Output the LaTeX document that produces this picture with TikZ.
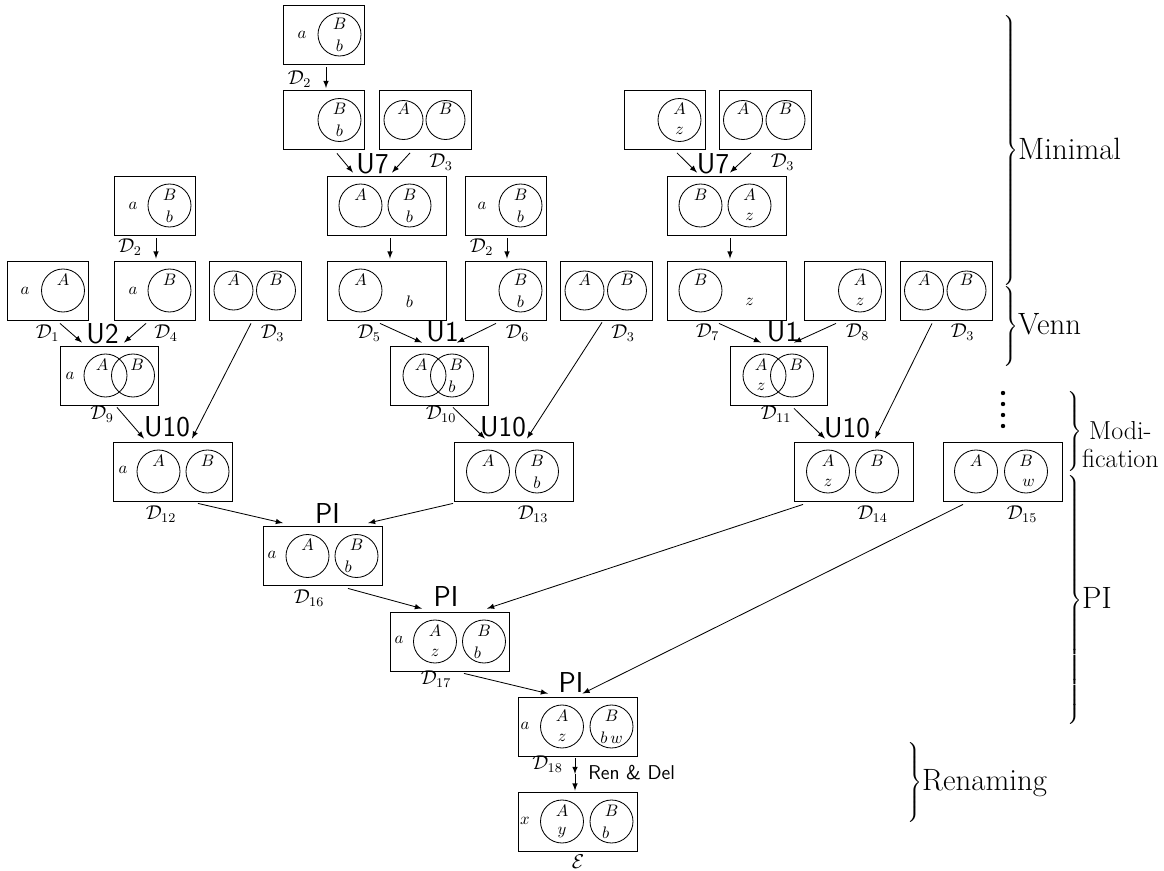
\documentclass[tikz,border=0pt]{standalone}
\usepackage{amsmath}
\usepackage{fontspec}
\usetikzlibrary{calc}
\newcommand{\setcirc}[5][setc]{\node[#1, label={[lab, yshift=6.6pt]center:${#4}$}, label={[lab, yshift=-6.6pt]center:${#5}$}] (#2) at (#3) {};}
\newcommand{\elem}[3]{\node[lab] (#1) at (#2) {$#3$};}
\newcommand{\phasetext}[1]{\raisebox{-2.4pt}{\fontsize{18.5}{22}\selectfont #1}}

\begin{document}
\begin{tikzpicture}[
    x=0.6pt, y=-0.6pt,
    box/.style  = {draw, line width=0.5pt, minimum height=35.4pt, inner sep=0pt},
    sbox/.style = {box, minimum width=48.6pt},
    dbox/.style = {box, minimum width=55.2pt},
    vbox/.style = {box, minimum width=58.5pt},
    wbox/.style = {box, minimum width=71.4pt},
    setc/.style = {circle, draw, line width=0.5pt, minimum size=25.8pt, inner sep=0pt},
    setd/.style = {setc, minimum size=23.4pt},
    lab/.style  = {inner sep=0pt},
    dlab/.style = {inner sep=0pt, font=\large},
    oplabel/.style = {inner sep=0pt, font=\LARGE\sffamily},
    arr/.style  = {->, >=latex, line width=0.5pt},
    brace/.style = {anchor=west, inner sep=0pt}
]
\useasboundingbox (0,0) rectangle (1164,871);

% minimal diagrams
\node[sbox] (b1) at (324,34.5) {};
\elem{b1a}{302,34.5}{a}
\setcirc{b1B}{339.5,34.5}{B}{b}

\node[sbox] (b2) at (324,120) {};
\setcirc{b2B}{339.5,120}{B}{b}
\node[dbox] (b3) at (425.5,120) {};
\setcirc[setd]{b3A}{403.5,120}{A}{}
\setcirc[setd]{b3B}{445.5,120}{B}{}
\node[sbox] (r1) at (664.5,120) {};
\setcirc{r1A}{679.5,120}{A}{z}
\node[dbox] (r2) at (765,120) {};
\setcirc[setd]{r2A}{743,120}{A}{}
\setcirc[setd]{r2B}{785.5,120}{B}{}

\node[sbox] (l1) at (154.5,205.5) {};
\elem{l1a}{133,205.5}{a}
\setcirc{l1B}{169.5,205.5}{B}{b}
\node[wbox] (b4) at (386.5,205.5) {};
\setcirc{b4A}{360.5,205.5}{A}{}
\setcirc{b4B}{409.5,205.5}{B}{b}
\node[sbox] (b5) at (505.5,205.5) {};
\elem{b5a}{482,205.5}{a}
\setcirc{b5B}{520.5,205.5}{B}{b}
\node[wbox] (r3) at (726.5,205.5) {};
\setcirc{r3B}{700.5,205.5}{B}{}
\setcirc{r3A}{749.5,205.5}{A}{z}

\node[sbox] (l2) at (47.5,290.5) {};
\elem{l2a}{25,290.5}{a}
\setcirc{l2A}{63,290.5}{A}{}
\node[sbox] (l3) at (154.5,290.5) {};
\elem{l3a}{133,290.5}{a}
\setcirc{l3B}{169.5,290.5}{B}{}
\node[dbox] (l4) at (255.5,290.5) {};
\setcirc[setd]{l4A}{233.5,290.5}{A}{}
\setcirc[setd]{l4B}{276,290.5}{B}{}
\node[wbox] (b6) at (386.5,290.5) {};
\setcirc{b6A}{360.5,290.5}{A}{}
\elem{b6b}{409.5,301.5}{b}
\node[sbox] (b7) at (505.5,290.5) {};
\setcirc{b7B}{520.5,290.5}{B}{b}
\node[dbox] (b8) at (606.5,290.5) {};
\setcirc[setd]{b8A}{584.5,290.5}{A}{}
\setcirc[setd]{b8B}{627,290.5}{B}{}
\node[wbox] (r4) at (726.5,290.5) {};
\setcirc{r4B}{700.5,290.5}{B}{}
\elem{r4z}{749.5,301.5}{z}
\node[sbox] (r5) at (845,290.5) {};
\setcirc{r5A}{860,290.5}{A}{z}
\node[dbox] (r6) at (946,290.5) {};
\setcirc[setd]{r6A}{924,290.5}{A}{}
\setcirc[setd]{r6B}{966.5,290.5}{B}{}

% venn diagrams
\node[vbox] (l5) at (109.5,375.5) {};
\elem{l5a}{70,375.5}{a}
\setcirc{l5A}{105.5,375.5}{A\kern4pt}{}
\setcirc{l5B}{133,375.5}{\kern5pt B}{}
\node[vbox] (b10) at (439.5,375.5) {};
\setcirc{b10A}{424.5,375.5}{A\kern4pt}{}
\setcirc{b10B}{452,375.5}{\kern5pt B}{b}
\node[vbox] (r7) at (779,375.5) {};
\setcirc{r7A}{764.5,375.5}{A\kern4pt}{z\kern4pt}
\setcirc{r7B}{792,375.5}{\kern5pt B}{}

% modified diagrams
\node[wbox] (d12) at (173,471.5) {};
\elem{d12a}{123,470}{a}
\setcirc{d12A}{158.5,471.5}{A}{}
\setcirc{d12B}{207.5,471.5}{B}{}
\node[wbox] (d13) at (513.5,471.5) {};
\setcirc{d13A}{488,471.5}{A}{}
\setcirc{d13B}{537,471.5}{B}{b}
\node[wbox] (d14) at (853.5,471.5) {};
\setcirc{d14A}{828,471.5}{A}{z}
\setcirc{d14B}{877,471.5}{B}{}
\node[wbox] (d15) at (1002.5,471.5) {};
\setcirc{d15A}{976,471.5}{A}{}
\setcirc{d15B}{1026,471.5}{B}{\kern3pt w}
\foreach \y in {393,404,415,426} \fill (1003,\y) circle (2.2);

% PI steps
\node[wbox] (d16) at (322.5,556) {};
\elem{d16a}{272,555}{a}
\setcirc{d16A}{307.5,556}{A}{}
\setcirc{d16B}{356.5,556}{B}{b\kern10pt}
\node[wbox] (d17) at (450,641.5) {};
\elem{d17a}{399,640}{a}
\setcirc{d17A}{435,641.5}{A}{z}
\setcirc{d17B}{484,641.5}{B}{b\kern8pt}
\node[wbox] (d18) at (577.5,726.5) {};
\elem{d18a}{525,726}{a}
\setcirc{d18A}{562,726.5}{A}{z}
\setcirc{d18B}{611.5,726.5}{B}{b\,w}
\node[wbox] (e) at (577.5,821.5) {};
\elem{ex}{525,821}{x}
\setcirc{eA}{562,821.5}{A}{y}
\setcirc{eB}{611.5,821.5}{B}{b\kern7pt}

% diagram names
\node[dlab] (b1l) at (299.5,79) {$\mathcal{D}_2$};
\node[dlab] (b3l) at (441,162) {$\mathcal{D}_3$};
\node[dlab] (r2l) at (782.5,162) {$\mathcal{D}_3$};
\node[dlab] (l1l) at (130,247) {$\mathcal{D}_2$};
\node[dlab] (b5l) at (481.5,247) {$\mathcal{D}_2$};
\node[dlab] (l2l) at (47.5,333) {$\mathcal{D}_1$};
\node[dlab] (l3l) at (166,333) {$\mathcal{D}_4$};
\node[dlab] (l4l) at (272.5,333) {$\mathcal{D}_3$};
\node[dlab] (b6l) at (369,333) {$\mathcal{D}_5$};
\node[dlab] (b7l) at (517.5,333) {$\mathcal{D}_6$};
\node[dlab] (b8l) at (623,333) {$\mathcal{D}_3$};
\node[dlab] (r4l) at (707.5,332) {$\mathcal{D}_7$};
\node[dlab] (r5l) at (857.5,332) {$\mathcal{D}_8$};
\node[dlab] (r6l) at (962.5,332) {$\mathcal{D}_3$};
\node[dlab] (l5l) at (102,414) {$\mathcal{D}_9$};
\node[dlab] (b10l) at (441,414) {$\mathcal{D}_{10}$};
\node[dlab] (r7l) at (776,414) {$\mathcal{D}_{11}$};
\node[dlab] (d12l) at (161,514) {$\mathcal{D}_{12}$};
\node[dlab] (d13l) at (533,514) {$\mathcal{D}_{13}$};
\node[dlab] (d14l) at (872.5,514) {$\mathcal{D}_{14}$};
\node[dlab] (d15l) at (1022,514) {$\mathcal{D}_{15}$};
\node[dlab] (d16l) at (309,598) {$\mathcal{D}_{16}$};
\node[dlab] (d17l) at (436,679) {$\mathcal{D}_{17}$};
\node[dlab] (d18l) at (547.5,764) {$\mathcal{D}_{18}$};
\node[dlab] (el) at (578,862) {$\mathcal{E}$};

% rule names
\node[oplabel] (u7a) at (372.5,164) {U7};
\node[oplabel] (u7b) at (713,164) {U7};
\node[oplabel] (u2) at (102.5,334) {U2};
\node[oplabel] (u1a) at (442.5,332) {U1};
\node[oplabel] (u1b) at (783,332) {U1};
\node[oplabel] (u10a) at (167,427) {U10};
\node[oplabel] (u10b) at (503,427) {U10};
\node[oplabel] (u10c) at (847,428) {U10};
\node[oplabel] (pia) at (327.5,513.5) {PI};
\node[oplabel] (pib) at (446,597) {PI};
\node[oplabel] (pic) at (571,683) {PI};
\node[oplabel, font=\large\sffamily, anchor=west] (rendel) at (588,773) {Ren \& Del};

% arrows
\draw[arr] ($(b1.south)+(2,3)$) -- ($(b2.north)+(2,-2)$);
\draw[arr] ($(b2.south)+(13,3.5)$) -- ($(b4.north)+(-33.5,-3)$);
\draw[arr] ($(b3.south)+(-15.5,3)$) -- ($(b4.north)+(5.5,-3)$);
\draw[arr] ($(b4.south)+(3.5,3)$) -- ($(b6.north)+(3.5,-2)$);
\draw[arr] ($(b5.south)+(1.5,3)$) -- ($(b7.north)+(1.5,-2)$);
\draw[arr] ($(b6.south)+(-6.5,3)$) -- ($(b10.north)+(-17.5,-3)$);
\draw[arr] ($(b7.south)+(-9.5,3)$) -- ($(b10.north)+(17.5,-3)$);
\draw[arr] ($(l1.south)+(1.5,3)$) -- ($(l3.north)+(1.5,-2)$);
\draw[arr] ($(l2.south)+(12.5,3)$) -- ($(l5.north)+(-27.5,-3)$);
\draw[arr] ($(l3.south)+(-8.5,3)$) -- ($(l5.north)+(14.5,-3)$);
\draw[arr] ($(r1.south)+(12.5,3)$) -- ($(r3.north)+(-29.5,-3)$);
\draw[arr] ($(r2.south)+(-14,3)$) -- ($(r3.north)+(3.5,-3)$);
\draw[arr] ($(r3.south)+(3.5,3)$) -- ($(r4.north)+(3.5,-2)$);
\draw[arr] ($(r4.south)+(-7.5,3)$) -- ($(r7.north)+(-18,-3)$);
\draw[arr] ($(r5.south)+(-9,3)$) -- ($(r7.north)+(15,-3)$);
\draw[arr] ($(l5.south)+(7.5,2)$) -- ($(d12.north)+(-29,-3)$);
\draw[arr] ($(l4.south)+(-4.5,3)$) -- ($(d12.north)+(19,-3)$);
\draw[arr] ($(b10.south)+(13.5,2)$) -- ($(d13.north)+(-28.5,-3)$);
\draw[arr] ($(b8.south)+(-4.5,2)$) -- ($(d13.north)+(13.5,-3)$);
\draw[arr] ($(r7.south)+(15,3)$) -- ($(d14.north)+(-28.5,-3)$);
\draw[arr] ($(r6.south)+(-14,3)$) -- ($(d14.north)+(21.5,-3)$);
\draw[arr] ($(d12.south)+(25,2)$) -- ($(d16.north)+(-39.5,-3)$);
\draw[arr] ($(d13.south)+(-60.5,2)$) -- ($(d16.north)+(45.5,-3)$);
\draw[arr] ($(d16.south)+(25.5,2.5)$) -- ($(d17.north)+(-28,-3)$);
\draw[arr] ($(d14.south)+(-50.5,3)$) -- ($(d17.north)+(37,-3)$);
\draw[arr] ($(d17.south)+(14,2)$) -- ($(d18.north)+(-29.5,-3)$);
\draw[arr] ($(d15.south)+(-39.5,3)$) -- ($(d18.north)+(5,-3)$);
\coordinate (ren) at (575,774);
\draw[arr] ($(d18.south)+(-2.5,2)$) -- (ren);
\draw[arr] (ren) -- ($(e.north)+(-2.5,-1)$);

% phases
\node[brace] (bmin) at (1001,151) {$\left.\vcenter{\hbox{\rule{0pt}{162pt}}}\right\}$\phasetext{Minimal}};
\node[brace] (bvenn) at (1001,326.5) {$\left.\vcenter{\hbox{\rule{0pt}{50pt}}}\right\}$\phasetext{Venn}};
\node[brace] (bmod) at (1065,432) {$\left.\vcenter{\hbox{\rule{0pt}{52pt}}}\right\}$\raisebox{-2.4pt}{\fontsize{15.6}{16.8}\selectfont\begin{tabular}[t]{@{}c@{}}Modi-\\fication\end{tabular}}};
\node[brace] (bpi) at (1065,600) {$\left.\vcenter{\hbox{\rule{0pt}{150pt}}}\right\}$\phasetext{PI}};
\node[brace] (bren) at (905,782) {$\left.\vcenter{\hbox{\rule{0pt}{52pt}}}\right\}$\phasetext{Renaming}};

\end{tikzpicture}
\end{document}
